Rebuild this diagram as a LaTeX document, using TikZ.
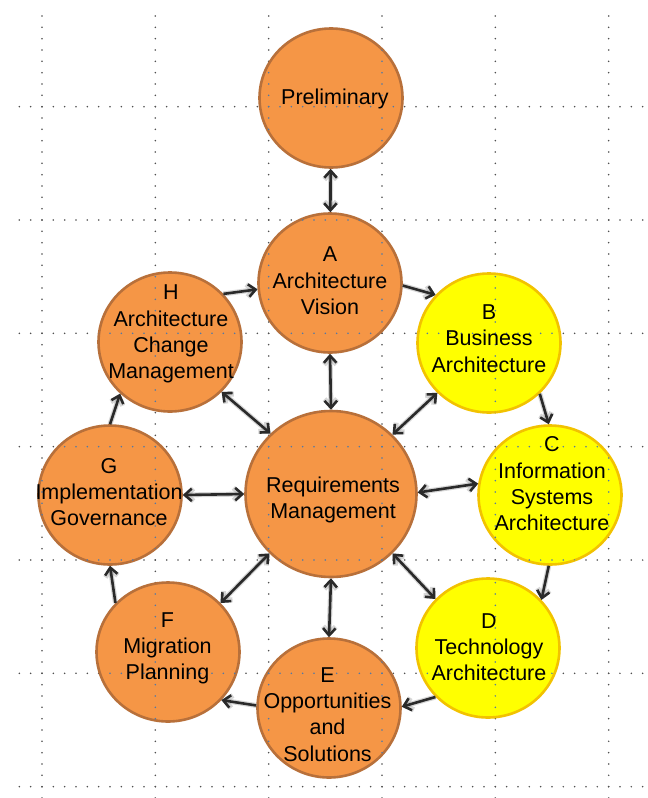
\documentclass[tikz,border=0pt]{standalone}
\usepackage{fontspec}
\setmainfont{Liberation Sans}
\usetikzlibrary{shapes.geometric,arrows.meta}
\definecolor{orfill}{HTML}{F59646}
\definecolor{ordraw}{HTML}{B8703A}
\definecolor{yefill}{HTML}{FFFF00}
\definecolor{yedraw}{HTML}{F2C200}
\definecolor{arr}{HTML}{2A2A2A}
\definecolor{dotc}{HTML}{505050}
\definecolor{dotin}{HTML}{4F78A8}
\newcommand{\mygrid}[1]{%
  \foreach \gx in {42,155.333,268.667,382,495.333,608.667}
    \draw[gridline,#1] (\gx,16) -- (\gx,798);
  \foreach \gy in {106.667,220,333.333,446.667,560,673.333,786.667}
    \draw[gridline,#1] (19.333,\gy) -- (648,\gy);
}
\begin{document}
\begin{tikzpicture}[x=1pt,y=-1pt,
  phase/.style={ellipse, minimum width=143pt, minimum height=139pt, inner sep=0pt, line width=2.6pt},
  orph/.style={phase, fill=orfill, draw=ordraw},
  yeph/.style={phase, fill=yefill, draw=yedraw},
  lbl/.style={align=center, font=\fontsize{21.5}{26.3}\selectfont, inner sep=0pt},
  conn/.style={draw=arr, line width=2.6pt, preaction={draw=black!45, opacity=0.35, line width=5pt}},
  one/.style={conn, -{Straight Barb[length=7pt,width=12.5pt]}},
  two/.style={conn, {Straight Barb[length=7pt,width=12.5pt]}-{Straight Barb[length=7pt,width=12.5pt]}},
  gridline/.style={line width=1.7pt, line cap=round, dash pattern=on 0pt off 11.333pt}
]
\useasboundingbox[fill=white] (0,0) rectangle (648,798);
\mygrid{dotc}

\node[orph] (P) at (331,98) {};
\node[orph] (A) at (330,283) {};
\node[orph] (H) at (170,342) {};
\node[yeph] (B) at (489,343) {};
\node[orph] (G) at (110,495) {};
\node[orph, minimum width=171pt, minimum height=166pt] (R) at (331,494) {};
\node[yeph] (C) at (550,495) {};
\node[orph] (F) at (168,652) {};
\node[yeph] (D) at (488,648) {};
\node[orph] (E) at (329,708) {};

\begin{scope}
\clip (331,98) ellipse[x radius=71.5pt, y radius=69.5pt]
      (330,283) ellipse[x radius=71.5pt, y radius=69.5pt]
      (170,342) ellipse[x radius=71.5pt, y radius=69.5pt]
      (489,343) ellipse[x radius=71.5pt, y radius=69.5pt]
      (110,495) ellipse[x radius=71.5pt, y radius=69.5pt]
      (331,494) ellipse[x radius=85.5pt, y radius=83pt]
      (550,495) ellipse[x radius=71.5pt, y radius=69.5pt]
      (168,652) ellipse[x radius=71.5pt, y radius=69.5pt]
      (488,648) ellipse[x radius=71.5pt, y radius=69.5pt]
      (329,708) ellipse[x radius=71.5pt, y radius=69.5pt];
\mygrid{dotin}
\end{scope}

\draw[two] (P) -- (A);
\draw[one] (H.42) -- (A.185);
\draw[one] (A.-2) -- (B.138);
\draw[one] (B.-45) -- (C.91);
\draw[one] (C.269) -- (D.42);
\draw[one] (D.223) -- (E.1);
\draw[one] (E.178) -- (F.-42);
\draw[one] (F.137) -- (G.270);
\draw[one] (G.90) -- (H.226);
\draw[two] (R.90) -- (A.270);
\draw[two] (R.135) -- (H.-44);
\draw[two] (R.44) -- (B.224);
\draw[two] (R.180) -- (G.0);
\draw[two] (R.1) -- (C.171);
\draw[two] (R.224) -- (F.43);
\draw[two] (R.-44) -- (D.137);
\draw[two] (R.270) -- (E.90);

\node[lbl] (Pt) at (335,99) {Preliminary};
\node[lbl] (At) at (330,281) {A\\Architecture\\Vision};
\node[lbl] (Ht) at (171,334) {H\\Architecture\\Change\\Management};
\node[lbl] (Bt) at (489,338.5) {B\\Business\\Architecture};
\node[lbl] (Gt) at (109,492) {G\\Implementation\\Governance};
\node[lbl] (Rt) at (333,500) {Requirements\\Management};
\node[lbl] (Ct) at (552,484) {C\\Information\\Systems\\Architecture};
\node[lbl] (Dt) at (489,647) {D\\Technology\\Architecture};
\node[lbl] (Ft) at (167.5,648.5) {F\\Migration\\Planning};
\node[lbl] (Et) at (327.5,714.5) {E\\Opportunities\\and\\Solutions};
\end{tikzpicture}
\end{document}
